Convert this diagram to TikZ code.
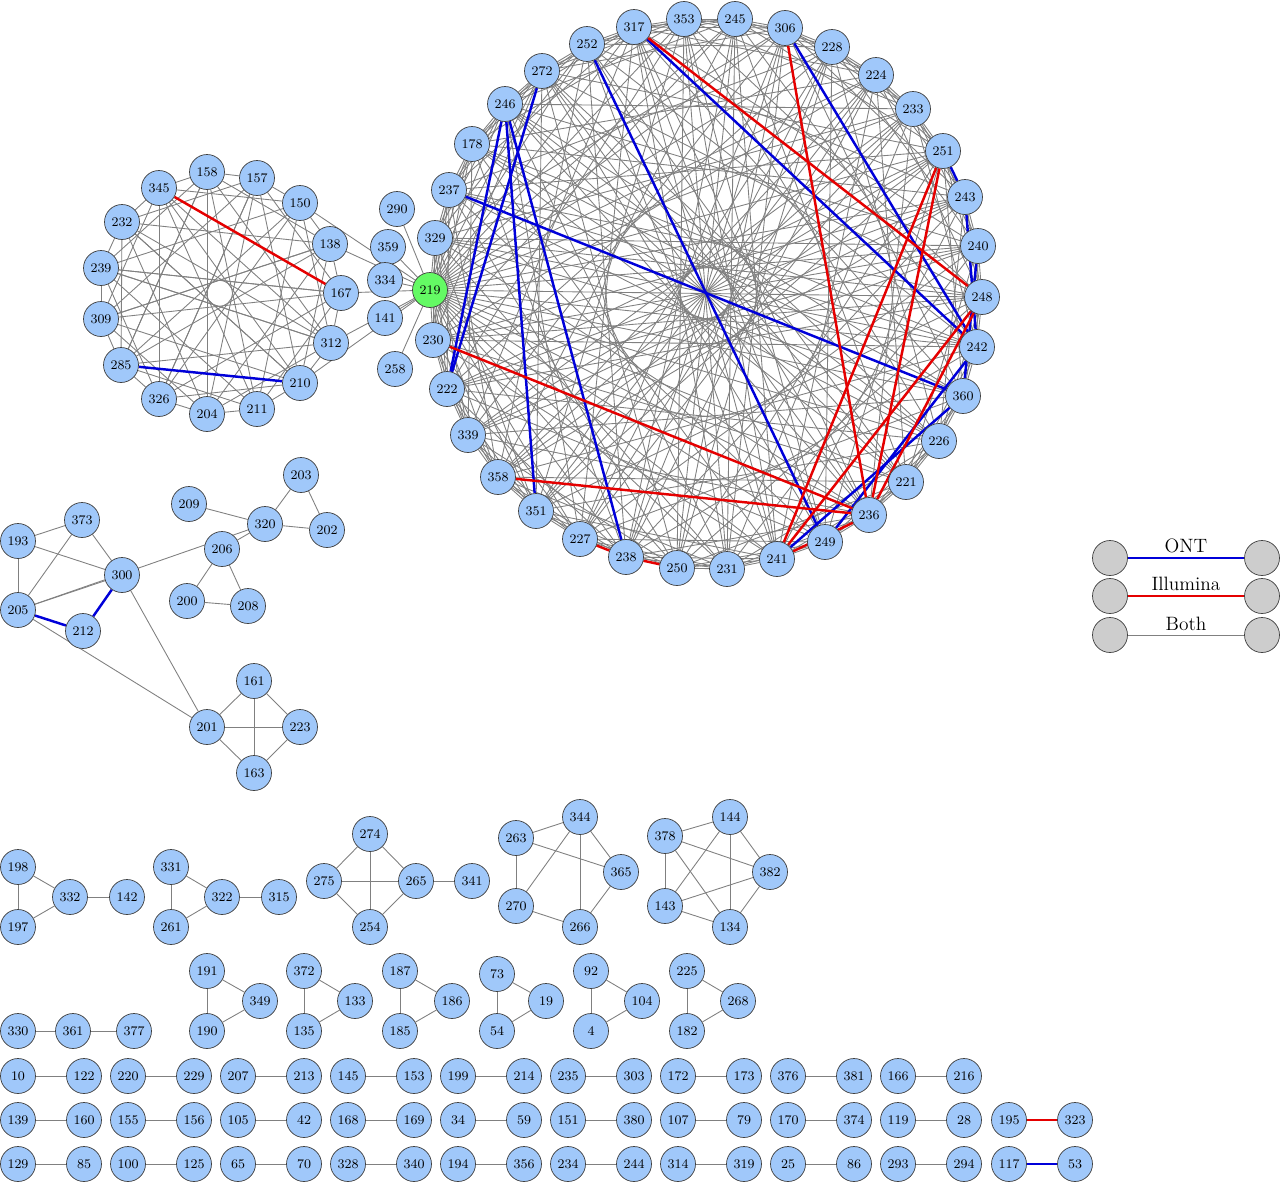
\documentclass[tikz,border=0pt]{standalone}
\usepackage{tikz}
\usetikzlibrary{arrows.meta}
\pgfdeclarelayer{bg}
\pgfsetlayers{bg,main}
\definecolor{nodeblue}{RGB}{160,200,250}
\definecolor{nodegreen}{RGB}{100,250,100}
\definecolor{legendgray}{RGB}{205,205,205}
\tikzset{
  vtx/.style={circle, draw=black!75, fill=nodeblue, minimum size=0.7cm, inner sep=0pt, font=\fontsize{7.5}{8}\selectfont},
  both/.style={draw=black!50, line width=0.5pt},
  ont/.style={draw=blue!85!black, line width=1.4pt},
  ilmn/.style={draw=red!90!black, line width=1.4pt},
}

\begin{document}
\begin{tikzpicture}[x=0.02cm, y=-0.02cm]
  \useasboundingbox (0,0) rectangle (1280,1183);

  % large component
  \foreach \lab/\x/\y [count=\i] in {317/634/27, 353/684/19, 245/735/19, 306/785/28, 228/832/47, 224/876/75,
      233/913/109, 251/943/151, 243/965/197, 240/978/246, 248/982/297, 242/977/347, 360/963/396,
      226/939/441, 221/906/482, 236/869/515, 249/825/542, 241/777/559, 231/727/569, 250/677/568,
      238/626/557, 227/580/539, 351/536/511, 358/498/477, 339/468/435, 222/447/389, 230/433/340,
      329/435/238, 237/449/190, 178/472/144, 246/505/104, 272/542/71, 252/587/44}
    \node[vtx, alias=c\i] (v\lab) at (\x,\y) {\lab};
  \node[vtx, fill=nodegreen] (v219) at (430,290) {219};

  % left component
  \foreach \lab/\x/\y [count=\i] in {345/159/188, 158/207/172, 157/257/178, 150/300/203, 138/330/244,
      167/341/293, 312/331/343, 210/300/383, 211/257/409, 204/207/414, 326/159/399, 285/121/365,
      309/101/319, 239/101/268, 232/122/222}
    \node[vtx, alias=l\i] (v\lab) at (\x,\y) {\lab};
  \foreach \lab/\x/\y in {290/397/209, 359/388/247, 334/385/280, 141/385/318, 258/395/369}
    \node[vtx] (v\lab) at (\x,\y) {\lab};

  % middle components
  \foreach \lab/\x/\y in {193/18/541, 373/82/520, 300/122/575, 205/18/610, 212/83/631, 209/189/504,
      203/301/475, 320/265/524, 202/327/530, 206/222/549, 200/187/601, 208/248/606,
      161/254/681, 201/207/727, 223/300/727, 163/254/773}
    \node[vtx] (v\lab) at (\x,\y) {\lab};

  % small components
  \foreach \lab/\x/\y in {198/18/867, 197/18/927, 332/70/897, 142/127/897,
      331/171/867, 261/171/927, 322/222/897, 315/279/897,
      274/370/834, 275/324/881, 265/416/881, 254/370/927, 341/472/881,
      263/516/838, 344/580/817, 365/621/872, 270/516/906, 266/580/927,
      378/665/836, 144/730/817, 382/770/872, 143/665/906, 134/730/927,
      330/18/1031, 361/73/1031, 377/134/1031,
      191/207/971, 190/207/1031, 349/260/1001, 372/304/971, 135/304/1031, 133/355/1001,
      187/400/971, 185/400/1031, 186/452/1001, 73/497/974, 54/497/1031, 19/546/1001,
      92/591/971, 4/591/1031, 104/642/1001, 225/687/971, 182/687/1031, 268/738/1001}
    \node[vtx] (v\lab) at (\x,\y) {\lab};

  % pairs
  \foreach \a/\b/\x in {10/122/18, 220/229/128, 207/213/238, 145/153/348, 199/214/458,
      235/303/568, 172/173/678, 376/381/788, 166/216/898}
    {\node[vtx] (v\a) at (\x,1076) {\a};
     \node[vtx] (v\b) at (\x+66,1076) {\b};
     \begin{pgfonlayer}{bg}\draw[both] (v\a) -- (v\b);\end{pgfonlayer}}
  \foreach \a/\b/\x in {139/160/18, 155/156/128, 105/42/238, 168/169/348, 34/59/458,
      151/380/568, 107/79/678, 170/374/788, 119/28/898}
    {\node[vtx] (v\a) at (\x,1120) {\a};
     \node[vtx] (v\b) at (\x+66,1120) {\b};
     \begin{pgfonlayer}{bg}\draw[both] (v\a) -- (v\b);\end{pgfonlayer}}
  \foreach \a/\b/\x in {129/85/18, 100/125/128, 65/70/238, 328/340/348, 194/356/458,
      234/244/568, 314/319/678, 25/86/788, 293/294/898}
    {\node[vtx] (v\a) at (\x,1164) {\a};
     \node[vtx] (v\b) at (\x+66,1164) {\b};
     \begin{pgfonlayer}{bg}\draw[both] (v\a) -- (v\b);\end{pgfonlayer}}
  \node[vtx] (v195) at (1009,1120) {195};
  \node[vtx] (v323) at (1075,1120) {323};
  \node[vtx] (v117) at (1009,1164) {117};
  \node[vtx] (v53) at (1075,1164) {53};

  % legend
  \foreach \name/\sty/\y [count=\i] in {ONT/ont/558, Illumina/ilmn/596, Both/both/635}
    {\node[vtx, fill=legendgray] (ka\i) at (1110,\y) {};
     \node[vtx, fill=legendgray] (kb\i) at (1262,\y) {};
     \draw[\sty] (ka\i) -- node[above=-1pt, font=\fontsize{11}{12}\selectfont] (kt\i) {\name} (kb\i);}

  \begin{pgfonlayer}{bg}
    % gray chords
    \foreach \i in {1,...,33}
      \foreach \k in {1,2,3,5,9,12,15,16}
        {\pgfmathtruncatemacro\j{mod(\i+\k-1,33)+1}
         \draw[both] (c\i) -- (c\j);}
    \foreach \i in {1,...,33} \draw[both] (v219) -- (c\i);
    \foreach \i in {1,...,15}
      \foreach \k in {1,3,5,7}
        {\pgfmathtruncatemacro\j{mod(\i+\k-1,15)+1}
         \draw[both] (l\i) -- (l\j);}
    \foreach \a/\b in {345/312, 232/210, 158/285, 239/312, 157/326, 239/167, 309/138}
      \draw[both] (v\a) -- (v\b);
    \foreach \b in {290,359,334,141,258,150,138,167,312,210}
      \draw[both] (v219) -- (v\b);
    \foreach \a/\b in {193/373, 193/300, 193/205, 373/205, 373/300, 205/300, 205/201, 300/201,
        205/320, 209/320, 203/320, 203/202, 320/202, 320/206, 206/200, 206/208, 200/208,
        161/201, 161/223, 161/163, 201/223, 201/163, 223/163,
        198/197, 198/332, 197/332, 332/142, 331/261, 331/322, 261/322, 322/315,
        274/275, 274/265, 274/254, 275/265, 275/254, 265/254, 265/341,
        263/344, 263/270, 263/365, 344/270, 344/266, 344/365, 270/266, 365/266,
        378/144, 378/143, 378/382, 378/134, 144/143, 144/382, 144/134, 143/382, 143/134, 382/134,
        330/361, 361/377, 191/190, 191/349, 190/349, 372/135, 372/133, 135/133,
        187/185, 187/186, 185/186, 73/54, 73/19, 54/19, 92/4, 92/104, 4/104,
        225/182, 225/268, 182/268}
      \draw[both] (v\a) -- (v\b);
    % colored edges
    \foreach \a/\b in {252/249, 317/242, 306/242, 237/360, 246/351, 246/238, 272/222, 246/222,
        251/243, 243/242, 240/360, 360/241, 242/249, 285/210, 205/212, 212/300, 117/53}
      \draw[ont] (v\a) -- (v\b);
    \foreach \a/\b in {317/248, 306/236, 230/236, 358/236, 251/236, 251/241, 248/241, 248/236,
        227/238, 238/250, 241/236, 345/167, 195/323}
      \draw[ilmn] (v\a) -- (v\b);
  \end{pgfonlayer}
\end{tikzpicture}
\end{document}
